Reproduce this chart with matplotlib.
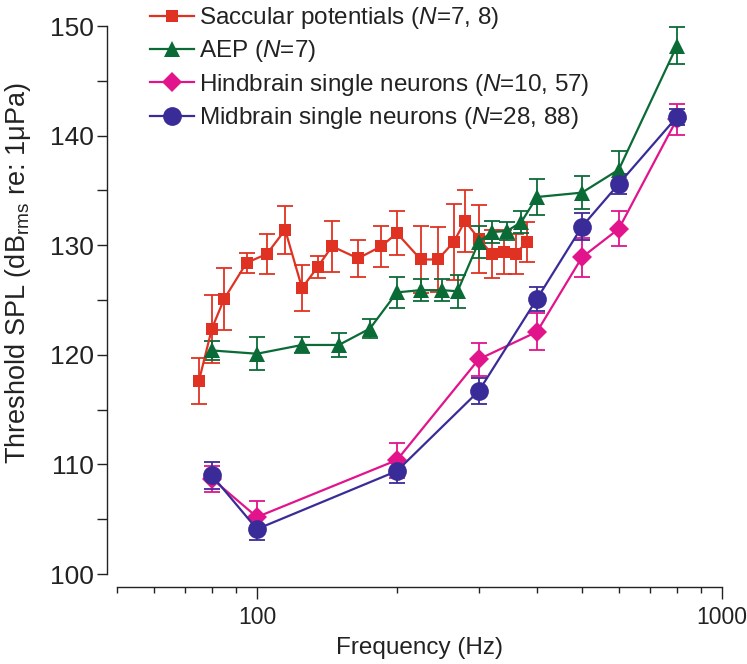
import matplotlib
matplotlib.use("Agg")
import matplotlib.pyplot as plt
from matplotlib.ticker import FixedLocator, FixedFormatter, NullFormatter

plt.rcParams['font.family'] = ['Liberation Sans', 'DejaVu Sans']
plt.rcParams['mathtext.fontset'] = 'custom'
plt.rcParams['mathtext.rm'] = 'Liberation Sans'
plt.rcParams['mathtext.it'] = 'Liberation Sans:italic'

# saccular potentials
freq_sac = [75, 80, 85, 95, 105, 115, 125, 135, 145, 165, 185, 200, 225, 245, 265, 280, 300, 320, 340, 360, 380]
thr_sac = [117.6, 122.4, 125.1, 128.4, 129.2, 131.4, 126.1, 128.0, 129.9, 128.8, 129.9, 131.1,
           128.7, 128.7, 130.3, 132.2, 130.6, 129.2, 129.4, 129.2, 130.3]
err_sac = [2.1, 3.1, 2.8, 0.9, 1.8, 2.2, 2.1, 1.0, 2.3, 1.7, 1.9, 2.0, 3.1, 3.0, 3.5, 2.8, 3.1, 2.2, 2.0, 1.8, 1.8]

# AEP
freq_aep = [80, 100, 125, 150, 175, 200, 225, 250, 270, 300, 320, 345, 370, 400, 500, 600, 800]
thr_aep = [120.4, 120.1, 120.9, 120.9, 122.4, 125.7, 125.9, 125.9, 125.8, 130.3, 131.2, 131.3,
           132.1, 134.4, 134.8, 136.9, 148.2]
err_aep = [0.9, 1.5, 0.7, 1.1, 0.9, 1.4, 1.0, 1.0, 1.5, 1.5, 1.0, 0.8, 1.0, 1.6, 1.5, 1.7, 1.7]

# hindbrain single neurons
freq_hb = [80, 100, 200, 300, 400, 500, 600, 800]
thr_hb = [108.7, 105.2, 110.4, 119.6, 122.1, 128.9, 131.5, 141.5]
err_hb = [1.2, 1.5, 1.6, 1.5, 1.7, 1.8, 1.6, 1.4]

# midbrain single neurons
freq_mb = [80, 100, 200, 300, 400, 500, 600, 800]
thr_mb = [109.0, 104.1, 109.4, 116.7, 125.1, 131.7, 135.6, 141.7]
err_mb = [1.25, 1.0, 1.1, 1.2, 1.1, 1.2, 0.9, 0.7]

labels = [r'Saccular potentials ($\it{N}$=7, 8)',
          r'AEP ($\it{N}$=7)',
          r'Hindbrain single neurons ($\it{N}$=10, 57)',
          r'Midbrain single neurons ($\it{N}$=28, 88)']

red = '#E03222'
green = '#0B6B36'
pink = '#E2148C'
blue = '#3A2C98'
ink = '#222222'

fig = plt.figure(figsize=(7.47, 6.64), dpi=100)
ax = fig.add_axes([0.1566, 0.1355, 0.8099, 0.8253])

series = [
    (freq_sac, thr_sac, err_sac, red, 's', 9),
    (freq_aep, thr_aep, err_aep, green, '^', 12),
    (freq_hb, thr_hb, err_hb, pink, 'D', 10),
    (freq_mb, thr_mb, err_mb, blue, 'o', 13.5),
]
handles = []
for x, y, e, c, m, ms in series:
    h = ax.errorbar(x, y, yerr=e, color=c, marker=m, markersize=ms, linewidth=1.6,
                    elinewidth=1.3, capsize=5.5, capthick=1.3)
    h[0].set_markeredgewidth(0)
    handles.append(h[0])   # legend shows line + marker only

ax.set_xscale('log')
ax.set_xlim(50, 1000)
ax.set_ylim(100, 150)

ax.spines['top'].set_visible(False)
ax.spines['right'].set_visible(False)
ax.spines['left'].set_position(('outward', 7.5))
ax.spines['bottom'].set_position(('outward', 9.5))
for s in ['left', 'bottom']:
    ax.spines[s].set_linewidth(1.0)
    ax.spines[s].set_color(ink)

ax.yaxis.set_major_locator(FixedLocator([100, 110, 120, 130, 140, 150]))
ax.yaxis.set_minor_locator(FixedLocator([105, 115, 125, 135, 145]))
ax.xaxis.set_major_locator(FixedLocator([100, 1000]))
ax.xaxis.set_minor_locator(FixedLocator([50, 60, 70, 80, 90, 200, 300, 400, 500, 600, 700, 800, 900]))
ax.xaxis.set_major_formatter(FixedFormatter(['100', '1000']))
ax.xaxis.set_minor_formatter(NullFormatter())

ax.tick_params(axis='y', which='both', direction='out', length=7, width=1.0,
               labelsize=19, pad=2, colors=ink)
ax.tick_params(axis='x', which='major', direction='out', length=8.5, width=1.0,
               labelsize=16.5, pad=5, colors=ink)
ax.tick_params(axis='x', which='minor', direction='out', length=4.5, width=1.0, colors=ink)

ax.set_xlabel('Frequency (Hz)', fontsize=17.5, labelpad=6, color=ink)
ax.set_ylabel(r'Threshold SPL (dB$_{\mathrm{rms}}$ re: 1$\mathrm{\mu}$Pa)', fontsize=19.5,
              color=ink)
ax.yaxis.set_label_coords(-0.139, 0.55)

leg = ax.legend(handles, labels, loc='upper left', bbox_to_anchor=(0.0545, 1.038),
                frameon=False, fontsize=17.5, handlelength=1.8, labelspacing=0.3,
                handletextpad=0.2, borderaxespad=0, borderpad=0)
for t in leg.get_texts():
    t.set_color(ink)

fig.savefig('out.png', dpi=100)
